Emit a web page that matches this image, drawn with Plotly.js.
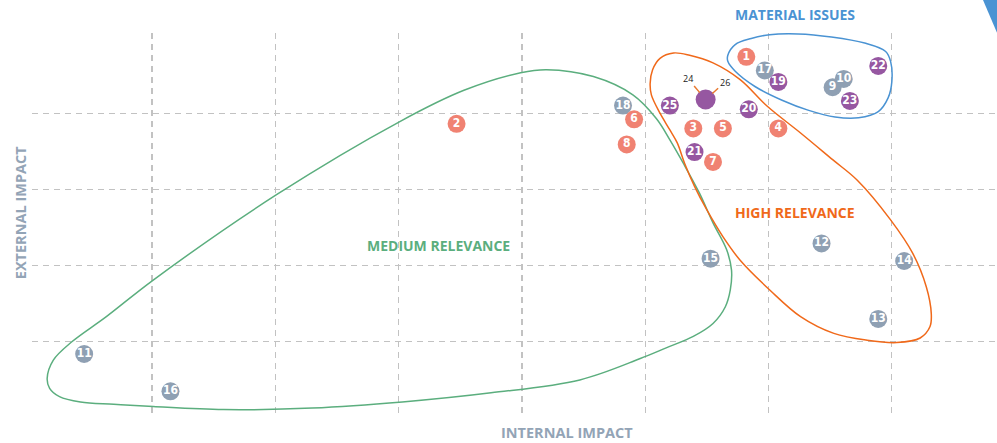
<!DOCTYPE html>
<html>
<head>
<meta charset="utf-8">
<script src="https://cdn.plot.ly/plotly-3.0.1.min.js"></script>
<style>
  html, body { margin: 0; padding: 0; background: #fff; }
  #chart { width: 997px; height: 443px; }
</style>
</head>
<body>
<div id="chart"></div>
<script>
// Materiality matrix: internal impact (x) vs external impact (y)

const COLORS = {
    salmon: '#F08272',
    grey:   '#8FA0B3',
    purple: '#9657A1',
    blue:   '#4A93D3',
    orange: '#F0691A',
    green:  '#5BAE7E',
    axis:   '#93A4B6',
    grid:   '#C2C2C2',
};

// ─── Issues by group ──────────────────────────────────────────────────────────

const SALMON_IDS = ['1', '2', '3', '4', '5', '6', '7', '8'];
const SALMON_X   = [5.82, 3.47, 5.39, 6.08, 5.63, 4.91, 5.55, 4.85];
const SALMON_Y   = [4.74, 3.86, 3.80, 3.80, 3.80, 3.92, 3.36, 3.59];

const GREY_IDS = ['9', '10', '11', '12', '13', '14', '15', '16', '17', '18'];
const GREY_X   = [6.52, 6.61, 0.45, 6.43, 6.89, 7.10, 5.53, 1.15, 5.97, 4.82];
const GREY_Y   = [4.34, 4.45, 0.84, 2.29, 1.30, 2.06, 2.09, 0.35, 4.56, 4.10];

const PURPLE_IDS = ['19', '20', '21', '22', '23', '25'];
const PURPLE_X   = [6.08, 5.84, 5.40, 6.89, 6.66, 5.20];
const PURPLE_Y   = [4.41, 4.05, 3.49, 4.62, 4.16, 4.10];

// issues 24 and 26 share one dot
const SHARED_IDS = ['24', '26'];
const SHARED_X   = [5.49];
const SHARED_Y   = [4.18];

// ─── Group outlines ───────────────────────────────────────────────────────────

const BLUE_LOOP_X = [5.67, 5.73, 5.86, 6.01, 6.24, 6.51, 6.78, 6.95, 6.99, 7.00, 6.97, 6.89,
                     6.73, 6.54, 6.32, 6.11, 5.89, 5.73, 5.67, 5.67];
const BLUE_LOOP_Y = [4.76, 4.90, 4.98, 5.03, 5.04, 5.00, 4.92, 4.81, 4.68, 4.41, 4.20, 4.02,
                     3.94, 3.95, 4.04, 4.17, 4.35, 4.55, 4.68, 4.76];

const ORANGE_LOOP_X = [5.23, 5.36, 5.55, 5.77, 5.99, 6.26, 6.52, 6.72, 6.99, 7.17, 7.28, 7.32,
                       7.31, 7.23, 7.04, 6.80, 6.53, 6.26, 6.01, 5.77, 5.63, 5.50, 5.40, 5.32,
                       5.26, 5.20, 5.12, 5.05, 5.04, 5.06, 5.12, 5.23];
const ORANGE_LOOP_Y = [4.79, 4.76, 4.66, 4.44, 4.09, 3.74, 3.39, 3.12, 2.60, 2.16, 1.72, 1.37,
                       1.20, 1.05, 0.99, 1.02, 1.11, 1.33, 1.68, 2.07, 2.38, 2.73, 3.04, 3.34,
                       3.61, 3.78, 4.00, 4.24, 4.39, 4.57, 4.72, 4.79];

const GREEN_LOOP_X = [4.20, 4.58, 4.90, 5.09, 5.20, 5.31, 5.44, 5.55, 5.66, 5.70, 5.69, 5.65,
                      5.55, 5.39, 5.17, 4.96, 4.47, 3.75, 3.03, 2.30, 1.58, 1.01, 0.69, 0.42,
                      0.25, 0.17, 0.15, 0.20, 0.35, 0.63, 1.01, 2.01, 3.01, 3.53, 3.99, 4.20];
const GREEN_LOOP_Y = [4.57, 4.48, 4.24, 3.93, 3.65, 3.34, 2.95, 2.56, 2.21, 1.94, 1.68, 1.46,
                      1.24, 1.07, 0.92, 0.78, 0.50, 0.33, 0.21, 0.13, 0.11, 0.15, 0.18, 0.21,
                      0.28, 0.39, 0.52, 0.76, 1.00, 1.33, 1.81, 2.93, 3.89, 4.30, 4.53, 4.57];

// group labels, placed in paper units (top one sits above the plot area)
const GROUP_LABELS = ['MATERIAL ISSUES', 'HIGH RELEVANCE', 'MEDIUM RELEVANCE'];
const GROUP_LABEL_X = [0.791, 0.791, 0.421];
const GROUP_LABEL_Y = [1.047, 0.534, 0.449];
const GROUP_LABEL_COLORS = [COLORS.blue, COLORS.orange, COLORS.green];

const X_GRID = [1, 2, 3, 4, 5, 6, 7];
const Y_GRID = [1, 2, 3, 4];

const NUM_FONT = {
    family: '"Liberation Sans Narrow", "DejaVu Sans Condensed", sans-serif',
    size: 12, color: '#ffffff', weight: 700,
};
const LABEL_FONT = 'Open Sans, sans-serif';

function loopTrace(xs, ys, color) {
    return {
        x: xs, y: ys, type: 'scatter', mode: 'lines',
        line: { color: color, width: 1.5, shape: 'spline', smoothing: 1 },
        hoverinfo: 'skip',
    };
}

function dotTrace(ids, xs, ys, color) {
    return {
        x: xs, y: ys, text: ids, type: 'scatter', mode: 'markers+text',
        marker: { color: color, size: 18, line: { width: 0 } },
        textposition: 'middle center',
        textfont: NUM_FONT,
        cliponaxis: false,
    };
}

const traces = [
    loopTrace(GREEN_LOOP_X, GREEN_LOOP_Y, COLORS.green),
    loopTrace(ORANGE_LOOP_X, ORANGE_LOOP_Y, COLORS.orange),
    loopTrace(BLUE_LOOP_X, BLUE_LOOP_Y, COLORS.blue),
    dotTrace(GREY_IDS, GREY_X, GREY_Y, COLORS.grey),
    dotTrace(SALMON_IDS, SALMON_X, SALMON_Y, COLORS.salmon),
    dotTrace(PURPLE_IDS, PURPLE_X, PURPLE_Y, COLORS.purple),
    {
        x: SHARED_X, y: SHARED_Y, type: 'scatter', mode: 'markers',
        marker: { color: COLORS.purple, size: 20 },
    },
];

const annotations = [];

GROUP_LABELS.forEach((t, i) => {
    annotations.push({
        text: t, x: GROUP_LABEL_X[i], y: GROUP_LABEL_Y[i], xref: 'paper', yref: 'paper',
        xanchor: 'center', yanchor: 'middle',
        showarrow: false, font: { family: LABEL_FONT, size: 14, color: GROUP_LABEL_COLORS[i], weight: 700 },
    });
});

// callouts for the shared dot
const calloutOffsets = [[-18, -21], [19, -17]];
SHARED_IDS.forEach((t, i) => {
    annotations.push({
        text: t, x: SHARED_X[0], y: SHARED_Y[0], xref: 'x', yref: 'y',
        ax: calloutOffsets[i][0], ay: calloutOffsets[i][1],
        showarrow: true, arrowhead: 0, arrowwidth: 1.5, arrowcolor: '#E8792F', standoff: 9,
        font: { family: LABEL_FONT, size: 9, color: '#222222' },
    });
});

// axis titles
annotations.push({
    text: 'INTERNAL IMPACT', x: 0.554, y: -0.038, xref: 'paper', yref: 'paper',
    xanchor: 'center', yanchor: 'middle',
    showarrow: false, font: { family: LABEL_FONT, size: 14.5, color: COLORS.axis, weight: 700 },
});
annotations.push({
    text: 'EXTERNAL IMPACT', x: -0.0124, y: 0.532, xref: 'paper', yref: 'paper', textangle: -90,
    xanchor: 'center', yanchor: 'middle',
    showarrow: false, font: { family: LABEL_FONT, size: 14.5, color: COLORS.axis, weight: 700 },
});

const axisBase = {
    showticklabels: false, ticks: '', zeroline: false, showline: false,
    showgrid: true, gridcolor: COLORS.grid, gridwidth: 1.2, griddash: '6px,5px',
    tickmode: 'array', fixedrange: true,
};

const layout = {
    width: 997, height: 443,
    paper_bgcolor: '#ffffff', plot_bgcolor: '#ffffff',
    margin: { t: 33, r: 0, b: 25, l: 32 },
    showlegend: false,
    hovermode: false,
    xaxis: { ...axisBase, range: [0.027, 7.853], tickvals: X_GRID },
    yaxis: { ...axisBase, range: [0, 5.052], tickvals: Y_GRID },
    annotations,
    shapes: [{
        // corner decoration, top right
        type: 'path', xref: 'paper', yref: 'paper',
        path: 'M 0.9855 1.0857 L 1.0135 1.0857 L 1.0135 0.922 Z',
        fillcolor: COLORS.blue, line: { width: 0 },
    }],
};

Plotly.newPlot('chart', traces, layout, { displayModeBar: false, staticPlot: true });
</script>
</body>
</html>
